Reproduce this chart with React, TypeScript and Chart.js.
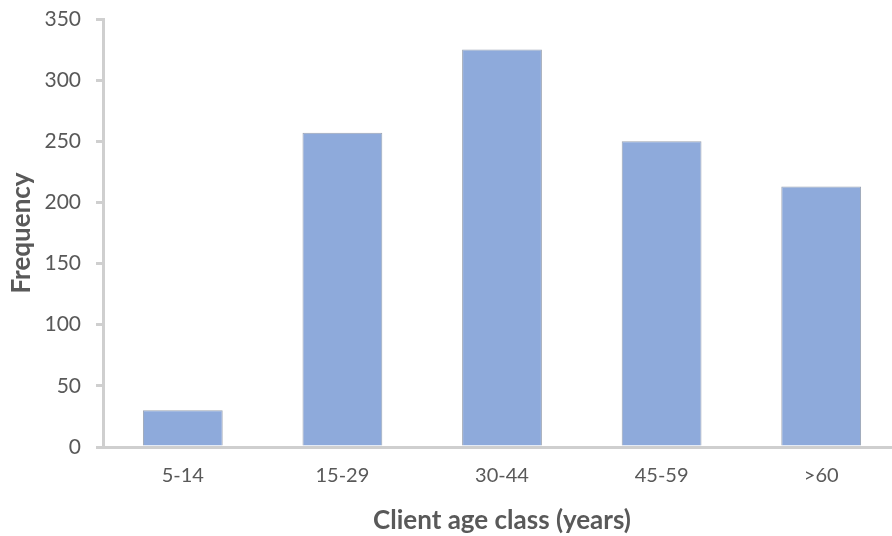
import React, { useEffect, useRef } from "react";
import { Chart, registerables } from "chart.js";

Chart.register(...registerables);

const categories = ["5-14", "15-29", "30-44", "45-59", ">60"];
const frequencies = [30, 257, 325, 250, 213];
const yMin = 0;
const yMax = 350;
const yStep = 50;
const xTitle = "Client age class (years)";
const yTitle = "Frequency";

const FONT = "Lato, 'Open Sans', sans-serif";
const TEXT = "#595959";
const AXIS = "#cfcfcf";

export default function App() {
  const ref = useRef<HTMLCanvasElement>(null);

  useEffect(() => {
    document.body.style.margin = "0";
    document.body.style.overflow = "hidden";
    const chart = new Chart(ref.current!, {
      type: "bar",
      data: {
        labels: categories,
        datasets: [
          {
            data: frequencies,
            backgroundColor: "#8eaadb",
            borderColor: "#9aa3b2",
            borderWidth: 1,
            barPercentage: 0.5,
            categoryPercentage: 1,
          },
        ],
      },
      options: {
        animation: false,
        responsive: false,
        maintainAspectRatio: false,
        layout: { padding: { top: 19, right: 0, left: 0, bottom: 0 } },
        plugins: { legend: { display: false }, tooltip: { enabled: false } },
        scales: {
          x: {
            grid: { display: false, drawTicks: false },
            border: { display: true, color: AXIS, width: 3 },
            ticks: { color: TEXT, font: { family: FONT, size: 20 }, padding: 17 },
            title: {
              display: true,
              text: xTitle,
              color: TEXT,
              font: { family: FONT, size: 26, weight: "bold" },
              padding: { top: 4, bottom: 0 },
            },
            afterFit: (s: any) => {
              s.height = 89;
              s.paddingLeft = 0;
              s.paddingRight = 0;
            },
          },
          y: {
            min: yMin,
            max: yMax,
            grid: {
              drawOnChartArea: false,
              drawTicks: true,
              tickLength: 7,
              tickColor: AXIS,
              lineWidth: 3,
            },
            border: { display: true, color: AXIS, width: 3 },
            ticks: {
              stepSize: yStep,
              color: TEXT,
              font: { family: FONT, size: 21 },
              padding: 15,
            },
            title: {
              display: true,
              text: yTitle,
              color: TEXT,
              font: { family: FONT, size: 26, weight: "bold" },
              padding: { top: 6, bottom: 0 },
            },
            afterFit: (s: any) => {
              s.width = 103;
              s.paddingTop = 0;
              s.paddingBottom = 0;
            },
          },
        },
      },
    });
    return () => chart.destroy();
  }, []);

  return (
    <div style={{ position: "fixed", left: 0, top: 0, width: 901, height: 536 }}>
      <canvas ref={ref} width={901} height={536} style={{ display: "block" }} />
    </div>
  );
}
